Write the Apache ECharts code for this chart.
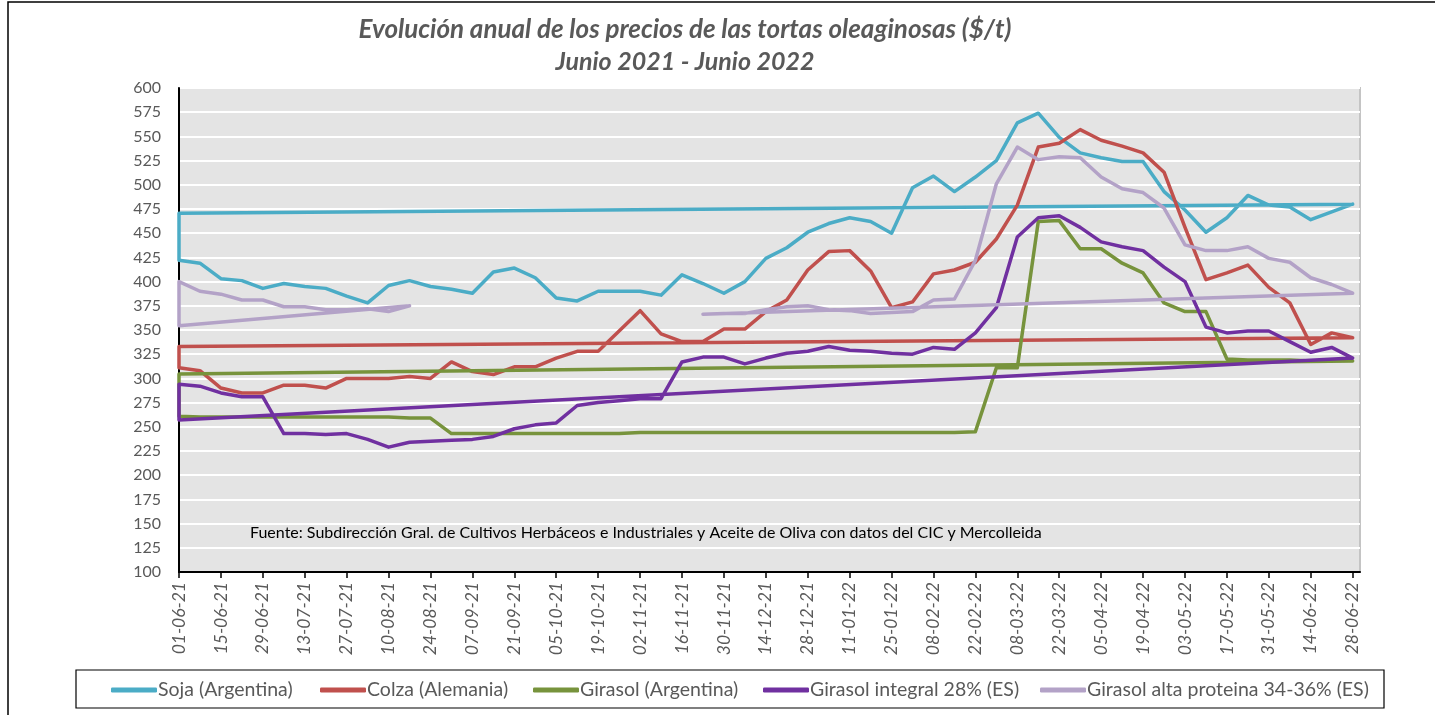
<!DOCTYPE html>
<html>
<head>
<meta charset="utf-8">
<script src="https://cdn.jsdelivr.net/npm/echarts@6/dist/echarts.min.js"></script>
<style>
  html, body { margin: 0; padding: 0; background: #fff; }
  #grafico { width: 1435px; height: 715px; }
</style>
</head>
<body>
<div id="grafico"></div>
<script>
// fechas semanales (martes)
var fechas = ['01-06-21','08-06-21','15-06-21','22-06-21','29-06-21','06-07-21','13-07-21','20-07-21','27-07-21',
  '03-08-21','10-08-21','17-08-21','24-08-21','31-08-21','07-09-21','14-09-21','21-09-21','28-09-21',
  '05-10-21','12-10-21','19-10-21','26-10-21','02-11-21','09-11-21','16-11-21','23-11-21','30-11-21',
  '07-12-21','14-12-21','21-12-21','28-12-21','04-01-22','11-01-22','18-01-22','25-01-22',
  '01-02-22','08-02-22','15-02-22','22-02-22','01-03-22','08-03-22','15-03-22','22-03-22','29-03-22',
  '05-04-22','12-04-22','19-04-22','26-04-22','03-05-22','10-05-22','17-05-22','24-05-22','31-05-22',
  '07-06-22','14-06-22','21-06-22','28-06-22'];

var soja = [422,419,403,401,393,398,395,393,385,378,396,401,395,392,388,410,414,404,383,380,390,390,390,386,407,398,388,400,
  424,435,451,460,466,462,450,497,509,493,508,525,564,574,549,533,528,524,524,493,474,451,466,489,479,477,464,472,480];
var colza = [311,308,290,285,285,293,293,290,300,300,300,302,300,317,307,304,312,312,321,328,328,349,370,346,338,338,351,351,
  369,381,412,431,432,411,373,379,408,412,420,444,479,539,543,557,546,540,533,513,456,402,409,417,394,378,335,347,342];
var girasolArg = [261,260,260,260,260,260,260,260,260,260,260,259,259,243,243,243,243,243,243,243,243,243,244,244,244,244,244,244,
  244,244,244,244,244,244,244,244,244,244,245,311,311,462,463,434,434,419,409,378,369,369,320,319,319,319,318,318,318];
var girasolInt = [294,292,285,281,281,243,243,242,243,237,229,234,235,236,237,240,248,252,254,272,275,277,279,279,317,322,322,315,
  321,326,328,333,329,328,326,325,332,330,347,373,446,466,468,456,441,436,432,415,400,353,347,349,349,338,327,332,321];
var girasolAlta = [400,390,387,381,381,374,374,371,371,372,369,375,null,null,null,null,null,null,null,null,null,null,null,null,null,
  367,367,367,371,374,375,371,370,367,368,369,381,382,422,501,539,526,529,528,508,496,492,476,438,432,432,436,424,420,404,397,388];

// valor de arranque de la recta que vuelve al inicio de cada tramo
var sojaInicio = [470.5];
var colzaInicio = [333];
var girasolArgInicio = [304.5];
var girasolIntInicio = [257];
var girasolAltaInicio = [354.5, 366.3];

var nombres = ['Soja (Argentina)', 'Colza (Alemania)', 'Girasol (Argentina)', 'Girasol integral 28% (ES)', 'Girasol alta proteina 34-36% (ES)'];
var colores = ['#4bacc6', '#c0504d', '#77933c', '#7030a0', '#b3a2c7'];
var posLeyenda = [111, 320, 533, 763, 1040];

// separa en tramos continuos y arma el recorrido: ultimo punto -> inicio -> tramo
function tramos(valores, inicios) {
  var res = [], actual = null;
  valores.forEach(function (v, i) {
    if (v == null) { actual = null; return; }
    if (!actual) { actual = []; res.push(actual); }
    actual.push([i, v]);
  });
  return res.map(function (t, k) {
    var ult = t[t.length - 1];
    return [ult, [t[0][0], inicios[k]]].concat(t);
  });
}

var datos = [[soja, sojaInicio], [colza, colzaInicio], [girasolArg, girasolArgInicio],
  [girasolInt, girasolIntInicio], [girasolAlta, girasolAltaInicio]];

var series = [];
datos.forEach(function (d, s) {
  tramos(d[0], d[1]).forEach(function (t) {
    series.push({
      name: nombres[s],
      type: 'line',
      data: t,
      showSymbol: false,
      symbol: 'none',
      lineStyle: { color: colores[s], width: 3.5, join: 'round', cap: 'round' },
      itemStyle: { color: colores[s] },
      z: 2 + s
    });
  });
});

var marcas = [];
for (var i = 0; i < fechas.length; i += 2) marcas.push(i);

var fuente = 'Lato, "Open Sans", sans-serif';

var leyendas = nombres.map(function (n, s) {
  return {
    data: [n],
    left: posLeyenda[s],
    top: 680,
    padding: 0,
    itemWidth: 46,
    itemHeight: 5,
    icon: 'roundRect',
    selectedMode: false,
    textStyle: { color: '#595959', fontSize: 19.5, fontFamily: fuente, padding: [0, 0, 0, -4] }
  };
});

var option = {
  animation: false,
  backgroundColor: '#fff',
  grid: {
    left: 179, right: 75, top: 88, bottom: 143,
    show: true,
    backgroundColor: '#e4e4e4',
    borderColor: '#c4c4c4',
    borderWidth: 2
  },
  legend: leyendas,
  xAxis: {
    type: 'value',
    min: 0,
    max: 56.35,
    interval: 2,
    axisLine: { lineStyle: { color: '#000', width: 2 } },
    axisTick: { show: true, length: 6, customValues: marcas, lineStyle: { color: '#000', width: 1.5 } },
    axisLabel: {
      customValues: marcas,
      rotate: 90,
      margin: 10,
      color: '#595959',
      fontSize: 17.5,
      fontStyle: 'italic',
      fontFamily: fuente,
      formatter: function (v) { return fechas[v] || ''; }
    },
    splitLine: { show: false }
  },
  yAxis: {
    type: 'value',
    min: 100,
    max: 600,
    interval: 25,
    axisLine: { show: true, lineStyle: { color: '#000', width: 2 } },
    axisTick: { show: false },
    axisLabel: { color: '#595959', fontSize: 16, fontFamily: fuente, margin: 18 },
    splitLine: { lineStyle: { color: '#ffffff', width: 2 } }
  },
  graphic: [
    { type: 'rect', shape: { x: 8, y: 2, width: 1440, height: 730 }, style: { fill: null, stroke: '#000', lineWidth: 1.5 }, z: -10 },
    { type: 'rect', shape: { x: 76, y: 670, width: 1308, height: 38 }, style: { fill: null, stroke: '#000', lineWidth: 1.2 }, z: 10 },
    { type: 'text', x: 685, y: 30, style: { text: 'Evolución anual de los precios de las tortas oleaginosas ($/t)', fill: '#595959',
        font: 'italic bold 26px ' + fuente, textAlign: 'center', textVerticalAlign: 'middle' } },
    { type: 'text', x: 685, y: 62, style: { text: 'Junio 2021 - Junio 2022', fill: '#595959',
        font: 'italic bold 25px ' + fuente, textAlign: 'center', textVerticalAlign: 'middle' } },
    { type: 'text', x: 250, y: 533, style: { text: 'Fuente: Subdirección Gral. de Cultivos Herbáceos e Industriales y Aceite de Oliva con datos del CIC y Mercolleida',
        fill: '#000', font: '16px ' + fuente, textVerticalAlign: 'middle' }, z: 20 }
  ],
  series: series
};

var chart = echarts.init(document.getElementById('grafico'));
chart.setOption(option);
</script>
</body>
</html>
